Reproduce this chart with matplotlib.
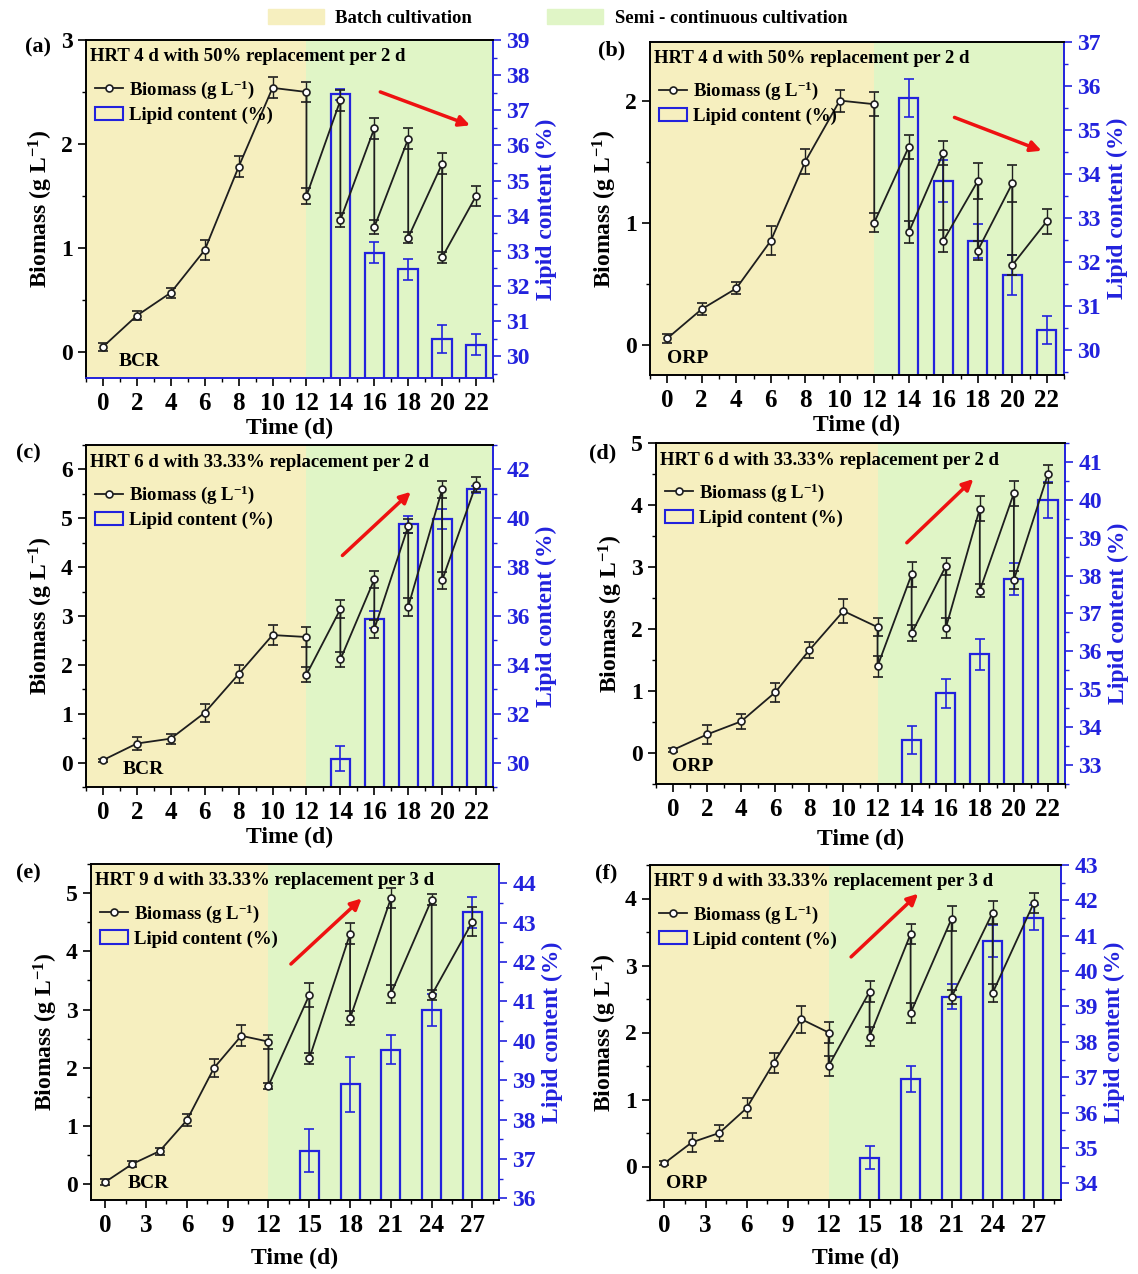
""" Biomass and lipid content in batch / semi-continuous cultivation
"""
import matplotlib
matplotlib.use("Agg")
import matplotlib.pyplot as plt
from matplotlib.lines import Line2D
from matplotlib.patches import Patch
from matplotlib.ticker import MultipleLocator

plt.rcParams['font.family'] = ['Liberation Serif', 'DejaVu Serif']
plt.rcParams['font.weight'] = 'bold'
plt.rcParams['axes.labelweight'] = 'bold'
plt.rcParams['mathtext.fontset'] = 'custom'
plt.rcParams['mathtext.rm'] = 'Liberation Serif:bold'
plt.rcParams['mathtext.bf'] = 'Liberation Serif:bold'
plt.rcParams['mathtext.default'] = 'bf'

# sampling times (before / after each replacement are both plotted)
t_2d = [0, 2, 4, 6, 8, 10, 12, 12, 14, 14, 16, 16, 18, 18, 20, 20, 22]
t_3d = [0, 2, 4, 6, 8, 10, 12, 12, 15, 15, 18, 18, 21, 21, 24, 24, 27]
lipid_t_2d = [14, 16, 18, 20, 22]
lipid_t_3d = [15, 18, 21, 24, 27]

# (a) BCR, HRT 4 d
bio_a = [0.05, 0.35, 0.57, 0.98, 1.78, 2.54, 2.50, 1.50, 2.42, 1.27, 2.15, 1.20, 2.05, 1.10, 1.81, 0.91, 1.50]
bio_err_a = [0.04, 0.04, 0.05, 0.10, 0.10, 0.10, 0.10, 0.08, 0.10, 0.07, 0.10, 0.07, 0.10, 0.05, 0.10, 0.05, 0.10]
lip_a = [37.45, 32.94, 32.48, 30.50, 30.33]
lip_err_a = [0.15, 0.30, 0.30, 0.40, 0.30]

# (b) ORP, HRT 4 d
bio_b = [0.05, 0.29, 0.46, 0.85, 1.50, 2.00, 1.97, 1.00, 1.62, 0.92, 1.57, 0.85, 1.34, 0.77, 1.32, 0.65, 1.01]
bio_err_b = [0.04, 0.05, 0.05, 0.12, 0.10, 0.09, 0.10, 0.08, 0.10, 0.09, 0.10, 0.09, 0.15, 0.08, 0.15, 0.08, 0.10]
lip_b = [35.72, 33.84, 32.48, 31.70, 30.45]
lip_err_b = [0.43, 0.47, 0.38, 0.45, 0.32]

# (c) BCR, HRT 6 d
bio_c = [0.05, 0.39, 0.49, 1.02, 1.81, 2.61, 2.57, 1.80, 3.14, 2.11, 3.75, 2.73, 4.84, 3.19, 5.59, 3.73, 5.69]
bio_err_c = [0.03, 0.13, 0.10, 0.18, 0.18, 0.20, 0.20, 0.15, 0.18, 0.15, 0.18, 0.18, 0.15, 0.18, 0.17, 0.17, 0.15]
lip_c = [30.16, 35.86, 39.75, 39.97, 41.18]
lip_err_c = [0.50, 0.35, 0.35, 0.40, 0.15]

# (d) ORP, HRT 6 d
bio_d = [0.05, 0.30, 0.51, 0.98, 1.66, 2.29, 2.03, 1.40, 2.88, 1.93, 3.01, 2.01, 3.94, 2.62, 4.19, 2.79, 4.50]
bio_err_d = [0.03, 0.15, 0.12, 0.15, 0.13, 0.20, 0.15, 0.17, 0.20, 0.13, 0.14, 0.16, 0.20, 0.10, 0.20, 0.15, 0.15]
lip_d = [33.66, 34.89, 35.92, 37.90, 39.99]
lip_err_d = [0.37, 0.38, 0.40, 0.42, 0.48]

# (e) BCR, HRT 9 d
bio_e = [0.04, 0.35, 0.57, 1.10, 2.00, 2.55, 2.45, 1.69, 3.25, 2.16, 4.30, 2.85, 4.91, 3.27, 4.89, 3.25, 4.51]
bio_err_e = [0.05, 0.05, 0.06, 0.10, 0.15, 0.18, 0.12, 0.05, 0.20, 0.10, 0.18, 0.12, 0.17, 0.15, 0.10, 0.08, 0.25]
lip_e = [37.21, 38.90, 39.78, 40.78, 43.26]
lip_err_e = [0.54, 0.70, 0.37, 0.40, 0.40]

# (f) ORP, HRT 9 d
bio_f = [0.05, 0.36, 0.50, 0.87, 1.55, 2.20, 2.00, 1.50, 2.61, 1.94, 3.47, 2.29, 3.70, 2.53, 3.79, 2.59, 3.93]
bio_err_f = [0.03, 0.14, 0.12, 0.15, 0.15, 0.20, 0.16, 0.15, 0.16, 0.14, 0.15, 0.15, 0.19, 0.10, 0.17, 0.14, 0.15]
lip_f = [34.73, 36.95, 39.28, 40.86, 41.51]
lip_err_f = [0.33, 0.38, 0.36, 0.45, 0.36]

hrt_a = "HRT 4 d with 50% replacement per 2 d"
hrt_c = "HRT 6 d with 33.33% replacement per 2 d"
hrt_e = "HRT 9 d with 33.33% replacement per 3 d"

BATCH = '#f6efbf'
SEMI = '#e0f5c6'
BLUE = '#2222dd'
W, H = 1138, 1274

# label, reactor, title, data, axes box in px (l, r, t, b), x setup, y limits, arrow
panels = [
	dict(tag='(a)', reac='BCR', title=hrt_a, t=t_2d, bio=bio_a, be=bio_err_a, lt=lipid_t_2d, lip=lip_a, le=lip_err_a,
		 box=(86, 493, 40, 378), xlim=(-1, 23), xstep=2, ylim=(-0.25, 3), ylim2=(29.38, 39), step2=1, bw=1.15,
		 arrow=((16.2, 2.51), (21.8, 2.17)), tagpos=(25, 47), reacx=0.08, xpad=2),
	dict(tag='(b)', reac='ORP', title=hrt_a, t=t_2d, bio=bio_b, be=bio_err_b, lt=lipid_t_2d, lip=lip_b, le=lip_err_b,
		 box=(650, 1064, 42, 375), xlim=(-1, 23), xstep=2, ylim=(-0.25, 2.48), ylim2=(29.43, 37), step2=1, bw=1.12,
		 arrow=((16.5, 1.87), (21.85, 1.58)), tagpos=(598, 50), reacx=0.04, xpad=2),
	dict(tag='(c)', reac='BCR', title=hrt_c, t=t_2d, bio=bio_c, be=bio_err_c, lt=lipid_t_2d, lip=lip_c, le=lip_err_c,
		 box=(86, 493, 445, 787), xlim=(-1, 23), xstep=2, ylim=(-0.5, 6.5), ylim2=(29, 43), step2=2, bw=1.12,
		 arrow=((14.0, 4.2), (18.27, 5.58)), tagpos=(16, 453), reacx=0.09, xpad=2),
	dict(tag='(d)', reac='ORP', title=hrt_c, t=t_2d, bio=bio_d, be=bio_err_d, lt=lipid_t_2d, lip=lip_d, le=lip_err_d,
		 box=(656, 1065, 443, 784), xlim=(-1, 23), xstep=2, ylim=(-0.5, 5), ylim2=(32.5, 41.5), step2=1, bw=1.12,
		 arrow=((13.6, 3.36), (17.74, 4.45)), tagpos=(589, 453), reacx=0.04, xpad=6),
	dict(tag='(e)', reac='BCR', title=hrt_e, t=t_3d, bio=bio_e, be=bio_err_e, lt=lipid_t_3d, lip=lip_e, le=lip_err_e,
		 box=(91, 499, 864, 1200), xlim=(-1.05, 28.95), xstep=3, ylim=(-0.27, 5.5), ylim2=(35.96, 44.49), step2=1, bw=1.4,
		 arrow=((13.5, 3.75), (19.0, 4.94)), tagpos=(16, 873), reacx=0.09, xpad=8),
	dict(tag='(f)', reac='ORP', title=hrt_e, t=t_3d, bio=bio_f, be=bio_err_f, lt=lipid_t_3d, lip=lip_f, le=lip_err_f,
		 box=(650, 1061, 865, 1200), xlim=(-1.06, 29), xstep=3, ylim=(-0.5, 4.5), ylim2=(33.53, 43), step2=1, bw=1.4,
		 arrow=((13.5, 3.1), (18.7, 4.1)), tagpos=(595, 873), reacx=0.04, xpad=8),
]

fig = plt.figure(figsize=(W / 100, H / 100), dpi=100)

for p in panels:
	l, r, t, b = p['box']
	ax = fig.add_axes([l / W, 1 - b / H, (r - l) / W, (b - t) / H])
	ax2 = ax.twinx()
	ax.set_zorder(ax2.get_zorder() + 1)
	ax.patch.set_visible(False)

	# background regions
	ax2.axvspan(p['xlim'][0], 12, color=BATCH, lw=0, zorder=0)
	ax2.axvspan(12, p['xlim'][1], color=SEMI, lw=0, zorder=0)

	# lipid bars
	ax2.bar(p['lt'], p['lip'], width=p['bw'], fill=False, edgecolor=BLUE, linewidth=1.6, zorder=2)
	ax2.errorbar(p['lt'], p['lip'], yerr=p['le'], fmt='none', ecolor=BLUE, elinewidth=1.2,
				 capsize=3.5, capthick=1.2, zorder=3)

	# biomass
	ax.errorbar(p['t'], p['bio'], yerr=p['be'], color='#1e1e1e', lw=1.3, marker='o', ms=5,
				mfc='white', mec='#1e1e1e', mew=1.2, elinewidth=1.0, capsize=3.5, capthick=1.0)

	ax.set_xlim(p['xlim'])
	ax.set_ylim(p['ylim'])
	ax2.set_ylim(p['ylim2'])
	ax.xaxis.set_major_locator(MultipleLocator(p['xstep']))
	ax.xaxis.set_minor_locator(MultipleLocator(p['xstep'] / 2))
	ax.yaxis.set_major_locator(MultipleLocator(1))
	ax.yaxis.set_minor_locator(MultipleLocator(0.5))
	ax2.yaxis.set_major_locator(MultipleLocator(p['step2']))
	ax2.yaxis.set_minor_locator(MultipleLocator(p['step2'] / 2))

	ax.tick_params(axis='both', which='major', length=6, width=1.2, labelsize=17)
	ax.tick_params(axis='both', which='minor', length=3, width=1.0)
	ax.tick_params(axis='x', labelsize=18, pad=4)
	ax2.tick_params(axis='y', which='major', length=6, width=1.2, colors=BLUE, labelsize=17)
	ax2.tick_params(axis='y', which='minor', length=3, width=1.0, colors=BLUE)
	for s in ('left', 'top', 'bottom'):
		ax.spines[s].set_linewidth(1.2)
		ax2.spines[s].set_linewidth(1.2)
	ax2.spines['right'].set_color(BLUE)
	ax2.spines['right'].set_linewidth(1.4)
	ax.spines['right'].set_visible(False)
	if p['tag'] == '(a)':
		ax.spines['bottom'].set_color(BLUE)
		ax2.spines['bottom'].set_color(BLUE)

	ax.set_xlabel('Time (d)', fontsize=17, labelpad=p['xpad'])
	ax.set_ylabel('Biomass (g L$^{-1}$)', fontsize=17, labelpad=4)
	ax2.set_ylabel('Lipid content (%)', fontsize=17, color=BLUE, labelpad=4)

	ax.text(0.01, 0.975, p['title'], transform=ax.transAxes, fontsize=13.5, va='top', ha='left')
	ax.text(p['reacx'], 0.05, p['reac'], transform=ax.transAxes, fontsize=14, va='center', ha='left')
	fig.text(p['tagpos'][0] / W, 1 - p['tagpos'][1] / H, p['tag'], fontsize=16, va='center', ha='left')

	handles = [Line2D([], [], color='#1e1e1e', lw=1.3, marker='o', ms=5, mfc='white', mew=1.2),
			   Patch(facecolor='none', edgecolor=BLUE, linewidth=1.5)]
	ax.legend(handles, ['Biomass (g L$^{-1}$)', 'Lipid content (%)'], loc='upper left',
			  bbox_to_anchor=(-0.005, 0.92), frameon=False, fontsize=13.5, handlelength=1.5,
			  handletextpad=0.3, labelspacing=0.3, borderaxespad=0.2)

	start, end = p['arrow']
	ax.annotate('', xy=end, xytext=start,
				arrowprops=dict(arrowstyle='-|>', color='#ee1111', lw=2.5, mutation_scale=16))

fig.legend(handles=[Patch(color=BATCH), Patch(color=SEMI)],
		   labels=['Batch cultivation', 'Semi - continuous cultivation'],
		   loc='center', bbox_to_anchor=(0.49, 1 - 18 / H), ncol=2, frameon=False, fontsize=13.5,
		   handlelength=3.0, handleheight=0.8, columnspacing=4.0, handletextpad=0.6)

fig.savefig('out.png', dpi=100)
